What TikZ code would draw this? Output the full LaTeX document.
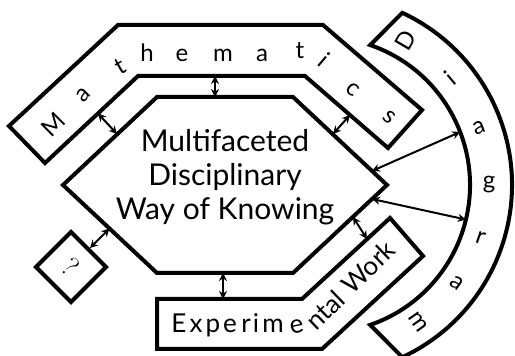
\documentclass[tikz,border=0pt]{standalone}
\usepackage{fontspec}
\setsansfont{Lato}
\usetikzlibrary{arrows.meta}

\tikzset{
	band/.style={line width=4pt, line join=miter},
	link/.style={{Stealth[length=8pt,width=8pt]}-{Stealth[length=8pt,width=8pt]}, line width=2pt},
	letter/.style={font=\sffamily\fontsize{24}{24}\selectfont, inner sep=0pt, anchor=center},
	wide/.style={font=\sffamily\fontsize{26}{26}\selectfont, inner sep=0pt}
}

\begin{document}
\begin{tikzpicture}[x=1pt,y=1pt]
	\useasboundingbox (0,0) rectangle (515,356);

	% the hexagon in the middle
	\coordinate (h1) at (63,171);
	\coordinate (h2) at (157,259);
	\coordinate (h3) at (293,259);
	\coordinate (h4) at (387,171);
	\coordinate (h5) at (293,83);
	\coordinate (h6) at (157,83);
	\draw [band] (h1) -- (h2) -- (h3) -- (h4) -- (h5) -- (h6) -- cycle;
	\node [align=center, inner sep=0pt, font=\sffamily\fontsize{30}{34}\selectfont] (core) at (225,179) {Multifaceted\\Disciplinary\\Way of Knowing};

	% Mathematics
	\draw [band] (9,230) -- (118,331) -- (323,331) -- (422,246) -- (388,208) -- (305,280) -- (138,280) -- (45,193) -- cycle;
	\foreach \x/\y/\r/\c [count=\i] in {53/231/45/M, 83.5/261/45/a, 120/290/30/t, 147/303.5/0/h, 182/301/0/e, 223/301/0/m, 262/301/0/a, 300/305.5/0/t, 324/296/-40/i, 353/266.5/-40/c, 389/238.5/-40/s}
		\node [letter, rotate=\r] (math\i) at (\x,\y) {\c};

	% Diagram, bent round the right side
	\coordinate (dc) at (322,171);
	\draw [band] ([shift={(71:148)}]dc) arc [start angle=71, end angle=-71, radius=148]
		-- ([shift={(-65:190)}]dc) arc [start angle=-65, end angle=65, radius=190] -- cycle;
	\foreach \a/\c [count=\i] in {60/D, 40/i, 20/a, 0/g, -18.5/r, -36/a, -55/m}
		\node [letter, rotate=\a] (diag\i) at ([shift={(\a:167)}]dc) {\c};

	% Experimental Work
	\draw [band] (157,57) -- (302,57) -- (390,138) -- (423,100) -- (322,7) -- (157,7) -- cycle;
	\foreach \x/\c [count=\i] in {179/E, 196/x, 213/p, 230/e, 246/r, 256/i, 273/m}
		\node [wide, anchor=base] (exp\i) at (\x,23) {\c};
	\node [wide, anchor=base, rotate=12] (exp8) at (298,23) {e};
	\node [wide, anchor=base west, rotate=44] (exp9) at (316,24) {ntal};
	\node [wide, anchor=base west, rotate=44] (exp10) at (352,60) {Work};

	% the unknown one
	\node [draw, line width=4pt, rotate=-45, minimum size=49.5pt, inner sep=0pt, font=\rmfamily\fontsize{28}{28}\selectfont] (qbox) at (71,89) {?};

	% ends of the arrows
	\coordinate (hexN) at (215,259);
	\coordinate (mathN) at (215,280);
	\coordinate (hexNW) at (117,222);
	\coordinate (mathNW) at (98,242.5);
	\coordinate (hexNE) at (333,222);
	\coordinate (mathNE) at (350,241);
	\coordinate (hexE1) at (372,185);
	\coordinate (diagE1) at ([shift={(21:148)}]dc);
	\coordinate (hexE2) at (372,157);
	\coordinate (diagE2) at ([shift={(-13.5:148)}]dc);
	\coordinate (hexSE) at (353,139);
	\coordinate (expSE) at (367,117);
	\coordinate (hexS) at (223,83);
	\coordinate (expS) at (223,57);
	\coordinate (hexSW) at (109.5,127.5);

	\draw [link] (hexN) -- (mathN);
	\draw [link] (hexNW) -- (mathNW);
	\draw [link] (hexNE) -- (mathNE);
	\draw [link] (hexE1) -- (diagE1);
	\draw [link] (hexE2) -- (diagE2);
	\draw [link] (hexSE) -- (expSE);
	\draw [link] (hexS) -- (expS);
	\draw [link] (qbox.north) -- (hexSW);
\end{tikzpicture}
\end{document}
